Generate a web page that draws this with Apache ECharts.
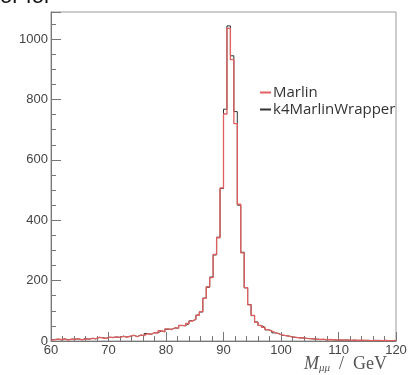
<!DOCTYPE html>
<html>
<head>
<meta charset="utf-8">
<script src="https://cdn.jsdelivr.net/npm/echarts@6/dist/echarts.min.js"></script>
<style>
  html, body { margin: 0; padding: 0; background: #fff; }
  #chart { width: 411px; height: 375px; }
</style>
</head>
<body>
<div id="chart"></div>
<script>
// histogram: 100 bins of 0.6 GeV from 60 to 120
const xMin = 60;
const xMax = 120;
const binWidth = 0.6;

// Marlin (red)
const marlinCounts = [
  4, 6, 5, 7, 3, 6, 5, 8, 4,
  7, 6, 9, 8, 12, 10, 9, 13,
  11, 14, 12, 15, 13, 16, 19, 14,
  20, 18, 24, 22, 28, 26, 34, 30, 40,
  38, 44, 42, 52, 50, 58, 66, 72,
  85, 97, 141, 180, 210, 287, 342, 507, 752, 1036, 932, 720,
  453, 292, 177, 120, 85, 62, 52, 45, 38, 33, 28, 24, 20,
  18, 16, 14, 12, 10, 11, 9, 8,
  7, 6, 5, 6, 4, 5, 4, 3, 4,
  3, 4, 2, 3, 2, 3, 2, 2, 1, 2, 2, 1, 2, 1, 1, 2
];

// k4MarlinWrapper (black)
const wrapperCounts = [
  5, 6, 4, 7, 4, 6, 6, 7, 4,
  8, 6, 9, 7, 12, 11, 9, 12,
  12, 13, 12, 16, 13, 15, 19, 15,
  19, 18, 25, 22, 27, 27, 33, 31, 39,
  39, 43, 43, 51, 51, 57, 67, 71,
  86, 96, 142, 178, 212, 285, 344, 505, 768, 1044, 945, 760,
  450, 294, 176, 121, 84, 63, 51, 46, 37, 34, 27, 25, 19,
  18, 16, 13, 12, 11, 10, 9, 8,
  7, 6, 5, 5, 4, 5, 4, 3, 3,
  3, 3, 2, 3, 2, 2, 2, 2, 1, 2, 1, 1, 2, 1, 1, 1
];

const xTicks = [60, 70, 80, 90, 100, 110, 120];
const yTicks = [0, 200, 400, 600, 800, 1000];

// step points: left edge of each bin, plus closing point at the right end
function toSteps(counts) {
  const pts = counts.map((c, i) => [xMin + i * binWidth, c]);
  pts.push([xMax, counts[counts.length - 1]]);
  return pts;
}

const chart = echarts.init(document.getElementById('chart'));

const labelFont = { fontFamily: 'Liberation Sans', fontSize: 13, color: '#444' };

chart.setOption({
  animation: false,
  grid: {
    left: 51, right: 15, top: 12, bottom: 34,
    show: true, borderColor: '#999', borderWidth: 1, backgroundColor: '#fff'
  },
  legend: {
    orient: 'vertical',
    left: 255, top: 80,
    itemWidth: 11, itemHeight: 2, itemGap: 2,
    icon: 'rect',
    textStyle: { fontFamily: 'Open Sans', fontSize: 15, color: '#333', padding: [0, 0, 0, -3] },
    data: [
      { name: 'Marlin', itemStyle: { color: '#e06060' } },
      { name: 'k4MarlinWrapper', itemStyle: { color: '#333' } }
    ]
  },
  xAxis: {
    type: 'value',
    min: xMin, max: xMax, interval: 10,
    axisLine: { show: true, lineStyle: { color: '#777' } },
    axisTick: { show: true, inside: true, length: 9, lineStyle: { color: '#777' } },
    minorTick: { show: true, splitNumber: 5, length: 5, lineStyle: { color: '#777' } },
    splitLine: { show: false },
    axisLabel: Object.assign({ margin: 3, formatter: v => xTicks.includes(v) ? String(v) : '' }, labelFont)
  },
  yAxis: {
    type: 'value',
    min: 0, max: 1090, interval: 200,
    axisLine: { show: true, lineStyle: { color: '#777' } },
    axisTick: { show: true, inside: true, length: 10, lineStyle: { color: '#777' } },
    minorTick: { show: true, splitNumber: 4, length: 5, lineStyle: { color: '#777' } },
    splitLine: { show: false },
    axisLabel: Object.assign({ margin: 3, showMaxLabel: false, formatter: v => yTicks.includes(v) ? String(v) : '' }, labelFont)
  },
  series: [
    {
      name: 'k4MarlinWrapper',
      type: 'line',
      step: 'end',
      showSymbol: false,
      data: toSteps(wrapperCounts),
      lineStyle: { color: '#333', width: 1 },
      itemStyle: { color: '#333' },
      z: 2
    },
    {
      name: 'Marlin',
      type: 'line',
      step: 'end',
      showSymbol: false,
      data: toSteps(marlinCounts),
      lineStyle: { color: '#e06060', width: 1.3 },
      itemStyle: { color: '#e06060' },
      z: 3
    }
  ],
  graphic: [
    {
      type: 'text',
      right: 24, top: 355,
      style: {
        text: '{m|M}{s|μμ}{n|  /  GeV}',
        rich: {
          m: { fontFamily: 'Liberation Serif', fontStyle: 'italic', fontSize: 18, fill: '#555' },
          s: { fontFamily: 'Liberation Serif', fontStyle: 'italic', fontSize: 11, fill: '#555', padding: [9, 0, 0, 0] },
          n: { fontFamily: 'Liberation Serif', fontSize: 18, fill: '#555' }
        }
      }
    },
    {
      type: 'text',
      left: 0, top: -14,
      style: { text: 'or for', fontFamily: 'Liberation Sans', fontSize: 22, fill: '#111' }
    }
  ]
});
</script>
</body>
</html>
